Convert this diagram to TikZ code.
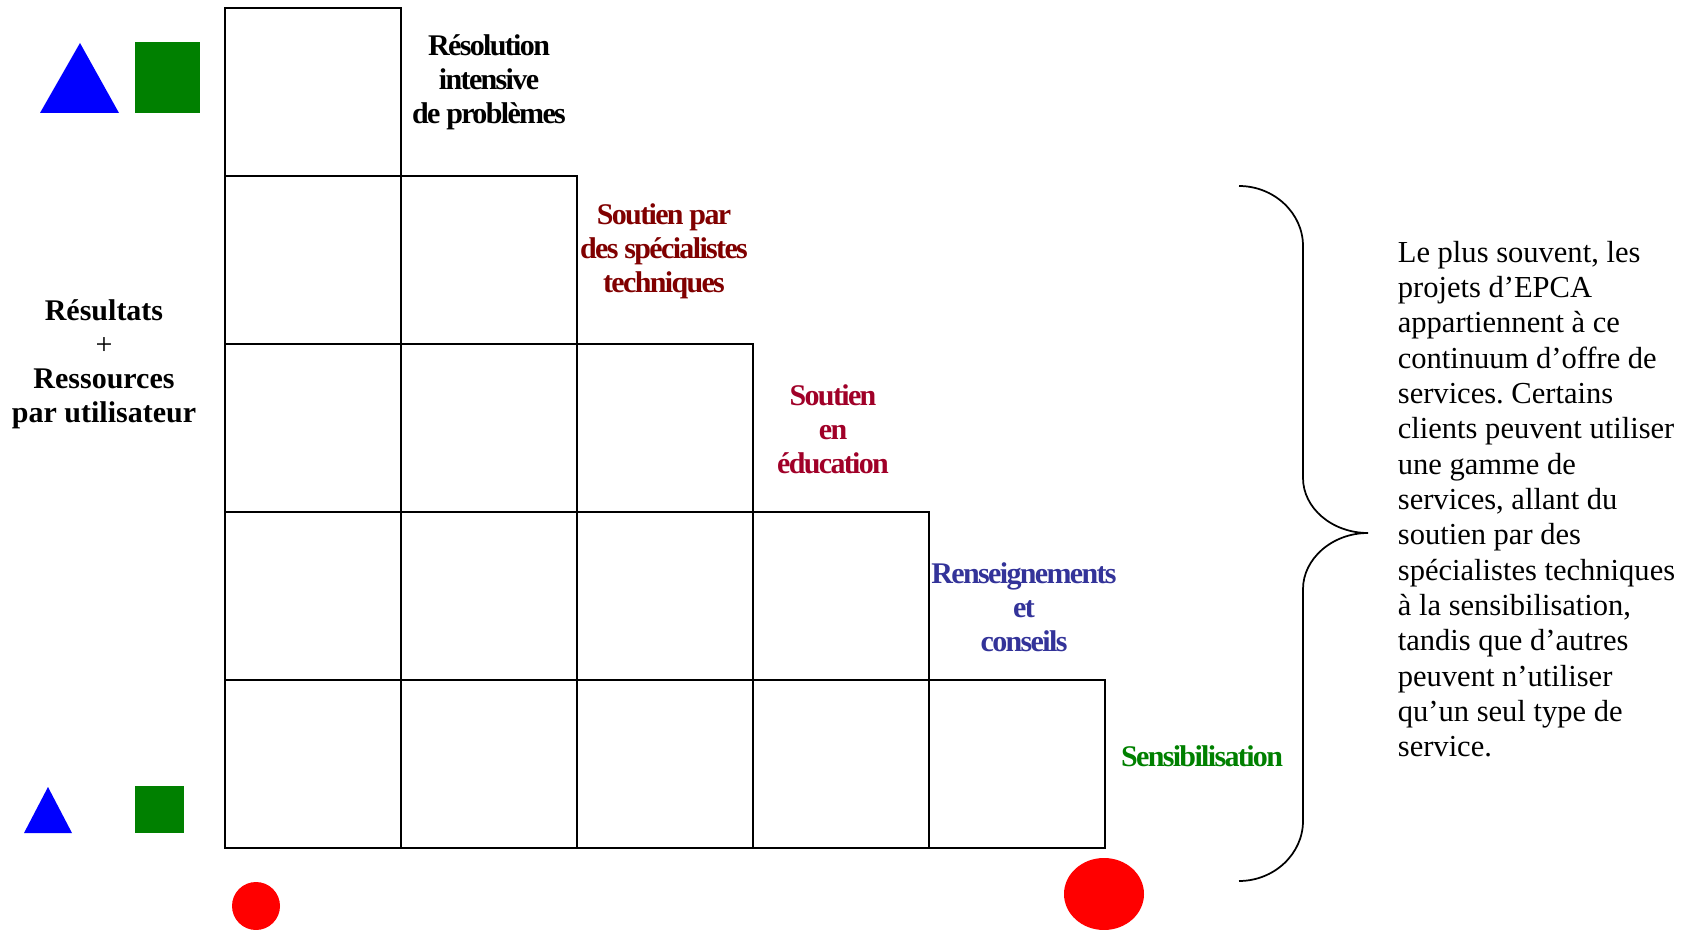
\documentclass[tikz,border=0pt]{standalone}
\usepackage{fontspec}
\setmainfont{Liberation Serif}
\newfontfamily\condensed[LetterSpace=-5.5]{Liberation Serif}
\frenchspacing

\definecolor{triblue}{RGB}{0,0,255}
\definecolor{boxgreen}{RGB}{0,128,0}
\definecolor{dotred}{RGB}{255,0,0}
\definecolor{specred}{RGB}{128,0,0}
\definecolor{edured}{RGB}{160,0,40}
\definecolor{infoblue}{RGB}{51,51,153}

\tikzset{every picture/.style={line width=1.3pt}}
\tikzset{
  stage/.style={font=\condensed\bfseries\fontsize{22.5}{25.5}\selectfont},
  axislabel/.style={font=\bfseries\fontsize{22.5}{25.5}\selectfont},
  note/.style={font=\fontsize{22.9}{26.5}\selectfont}
}

\begin{document}
\begin{tikzpicture}[x=0.75pt,y=0.75pt,yscale=-1,xscale=1]
\useasboundingbox (0,0) rectangle (1699,930);

%Shape: Triangle (top)
\fill [triblue] (40,113) -- (119,113) -- (80,43) -- cycle ;
%Shape: Square (top)
\fill [boxgreen] (135,42) rectangle (200,113) ;
%Shape: Triangle (bottom)
\fill [triblue] (24,833) -- (72,833) -- (48,787) -- cycle ;
%Shape: Square (bottom)
\fill [boxgreen] (135,786) rectangle (184,833) ;

%Shape: Rectangle row 1
\draw   (225,8) rectangle (401,176) ;
%Shape: Rectangle row 2
\draw   (225,176) rectangle (401,344) ;
\draw   (401,176) rectangle (577,344) ;
%Shape: Rectangle row 3
\draw   (225,344) rectangle (401,512) ;
\draw   (401,344) rectangle (577,512) ;
\draw   (577,344) rectangle (753,512) ;
%Shape: Rectangle row 4
\draw   (225,512) rectangle (401,680) ;
\draw   (401,512) rectangle (577,680) ;
\draw   (577,512) rectangle (753,680) ;
\draw   (753,512) rectangle (929,680) ;
%Shape: Rectangle row 5
\draw   (225,680) rectangle (401,848) ;
\draw   (401,680) rectangle (577,848) ;
\draw   (577,680) rectangle (753,848) ;
\draw   (753,680) rectangle (929,848) ;
\draw   (929,680) rectangle (1105,848) ;

%Shape: Circle
\fill [dotred] (256,906) circle [radius=24] ;
%Shape: Ellipse
\fill [dotred] (1104,894) ellipse [x radius=40, y radius=36] ;

%Shape: Brace
\draw   (1239,186) .. controls (1274,186) and (1303,213) .. (1303,246) -- (1303,478) .. controls (1303,508) and (1332,533) .. (1368,533) .. controls (1332,533) and (1303,559) .. (1303,589) -- (1303,821) .. controls (1303,854) and (1274,881) .. (1239,881) ;

% Text Node
\draw (104,364) node [inner sep=0.75pt] [align=center] [axislabel] (result) {Résultats\\{\mdseries +}\\Ressources\\par utilisateur};
% Text Node
\draw (489,82) node [inner sep=0.75pt] [align=center] [stage] (intensive) {Résolution\\intensive\\de problèmes};
% Text Node
\draw (664,251) node [inner sep=0.75pt] [align=center] [stage, text=specred] (specialist) {Soutien par\\des spécialistes\\techniques};
% Text Node
\draw (833,429) node [inner sep=0.75pt] [align=center] [stage, text=edured] (education) {Soutien\\en\\éducation};
% Text Node
\draw (1024,607) node [inner sep=0.75pt] [align=center] [stage, text=infoblue] (advice) {Renseignements\\et\\conseils};
% Text Node
\draw (1202,756) node [inner sep=0.75pt] [align=center] [stage, text=boxgreen] (awareness) {Sensibilisation};
% Text Node
\draw (1397,499) node [anchor=west][inner sep=0pt] [align=left] [note] (summary) {Le plus souvent, les\\projets d’EPCA\\appartiennent à ce\\continuum d’offre de\\services. Certains\\clients peuvent utiliser\\une gamme de\\services, allant du\\soutien par des\\spécialistes techniques\\à la sensibilisation,\\tandis que d’autres\\peuvent n’utiliser\\qu’un seul type de\\service.};

\end{tikzpicture}
\end{document}
